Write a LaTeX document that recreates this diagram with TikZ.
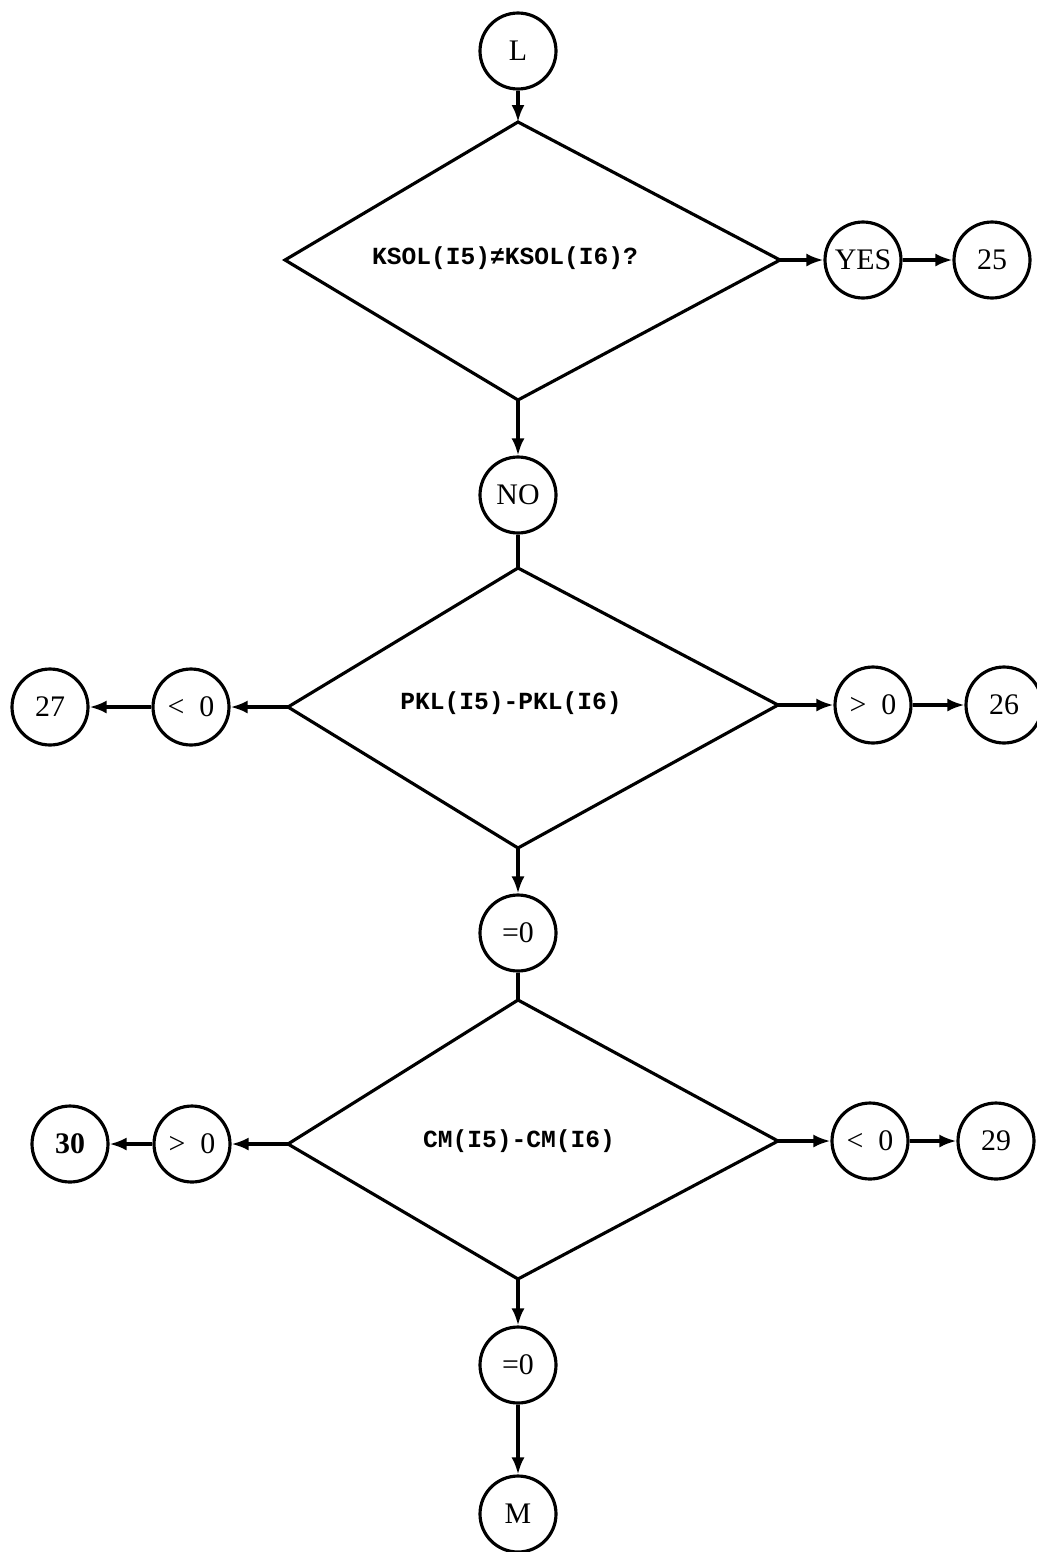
\documentclass[tikz,border=0pt]{standalone}
\usepackage{fontspec}
\setmainfont{Liberation Serif}
\newfontfamily\monof{Liberation Mono}
\usetikzlibrary{arrows.meta}
\begin{document}
\begin{tikzpicture}[x=0.02cm,y=-0.02cm,
  line width=1.8pt,
  conn/.style={draw, line width=1.8pt},
  arr/.style={conn, -{Latex[length=3.4mm,width=2.6mm]}},
  circ/.style={circle, draw, line width=1.8pt, minimum size=1.52cm, inner sep=0pt, font=\fontsize{17}{19}\selectfont},
  dtext/.style={font=\monof\bfseries\fontsize{14}{16}\selectfont, inner sep=0pt}]
\useasboundingbox (0,0) rectangle (1036,1552);
% circles
\node[circ] (L) at (518,51) {L};
\node[circ] (yes) at (863,260) {YES};
\node[circ] (c25) at (992,260) {25};
\node[circ] (no) at (518,495) {NO};
\node[circ] (lt1) at (191,707) {<\ \ 0};
\node[circ] (c27) at (50,707) {27};
\node[circ] (gt1) at (873,705) {>\ \ 0};
\node[circ] (c26) at (1004,705) {26};
\node[circ] (eq1) at (518,933) {=0};
\node[circ] (gt2) at (192,1144) {>\ \ 0};
\node[circ] (c30) at (70,1144) {\bfseries 30};
\node[circ] (lt2) at (870,1141) {<\ \ 0};
\node[circ] (c29) at (996,1141) {29};
\node[circ] (eq2) at (518,1365) {=0};
\node[circ] (M) at (518,1514) {M};
% diamonds
\coordinate (d1t) at (518,122);
\coordinate (d1r) at (780,260);
\coordinate (d1b) at (518,400);
\coordinate (d1l) at (285,260);
\draw (d1t) -- (d1r) -- (d1b) -- (d1l) -- cycle;
\node[dtext] (t1) at (505,258) {KSOL(I5)≠KSOL(I6)?};
\coordinate (d2t) at (518,568);
\coordinate (d2r) at (778,705);
\coordinate (d2b) at (518,848);
\coordinate (d2l) at (288,707);
\draw (d2t) -- (d2r) -- (d2b) -- (d2l) -- cycle;
\node[dtext] (t2) at (511,703) {PKL(I5)-PKL(I6)};
\coordinate (d3t) at (518,1000);
\coordinate (d3r) at (778,1141);
\coordinate (d3b) at (518,1279);
\coordinate (d3l) at (288,1144);
\draw (d3t) -- (d3r) -- (d3b) -- (d3l) -- cycle;
\node[dtext] (t3) at (519,1141) {CM(I5)-CM(I6)};
% connectors
\draw[arr] (L) -- (d1t);
\draw[arr] (d1r) -- (yes);
\draw[arr] (yes) -- (c25);
\draw[arr] (d1b) -- (no);
\draw[conn] (no) -- (d2t);
\draw[arr] (d2l) -- (lt1);
\draw[arr] (lt1) -- (c27);
\draw[arr] (d2r) -- (gt1);
\draw[arr] (gt1) -- (c26);
\draw[arr] (d2b) -- (eq1);
\draw[conn] (eq1) -- (d3t);
\draw[arr] (d3l) -- (gt2);
\draw[arr] (gt2) -- (c30);
\draw[arr] (d3r) -- (lt2);
\draw[arr] (lt2) -- (c29);
\draw[arr] (d3b) -- (eq2);
\draw[arr] (eq2) -- (M);
\end{tikzpicture}
\end{document}
